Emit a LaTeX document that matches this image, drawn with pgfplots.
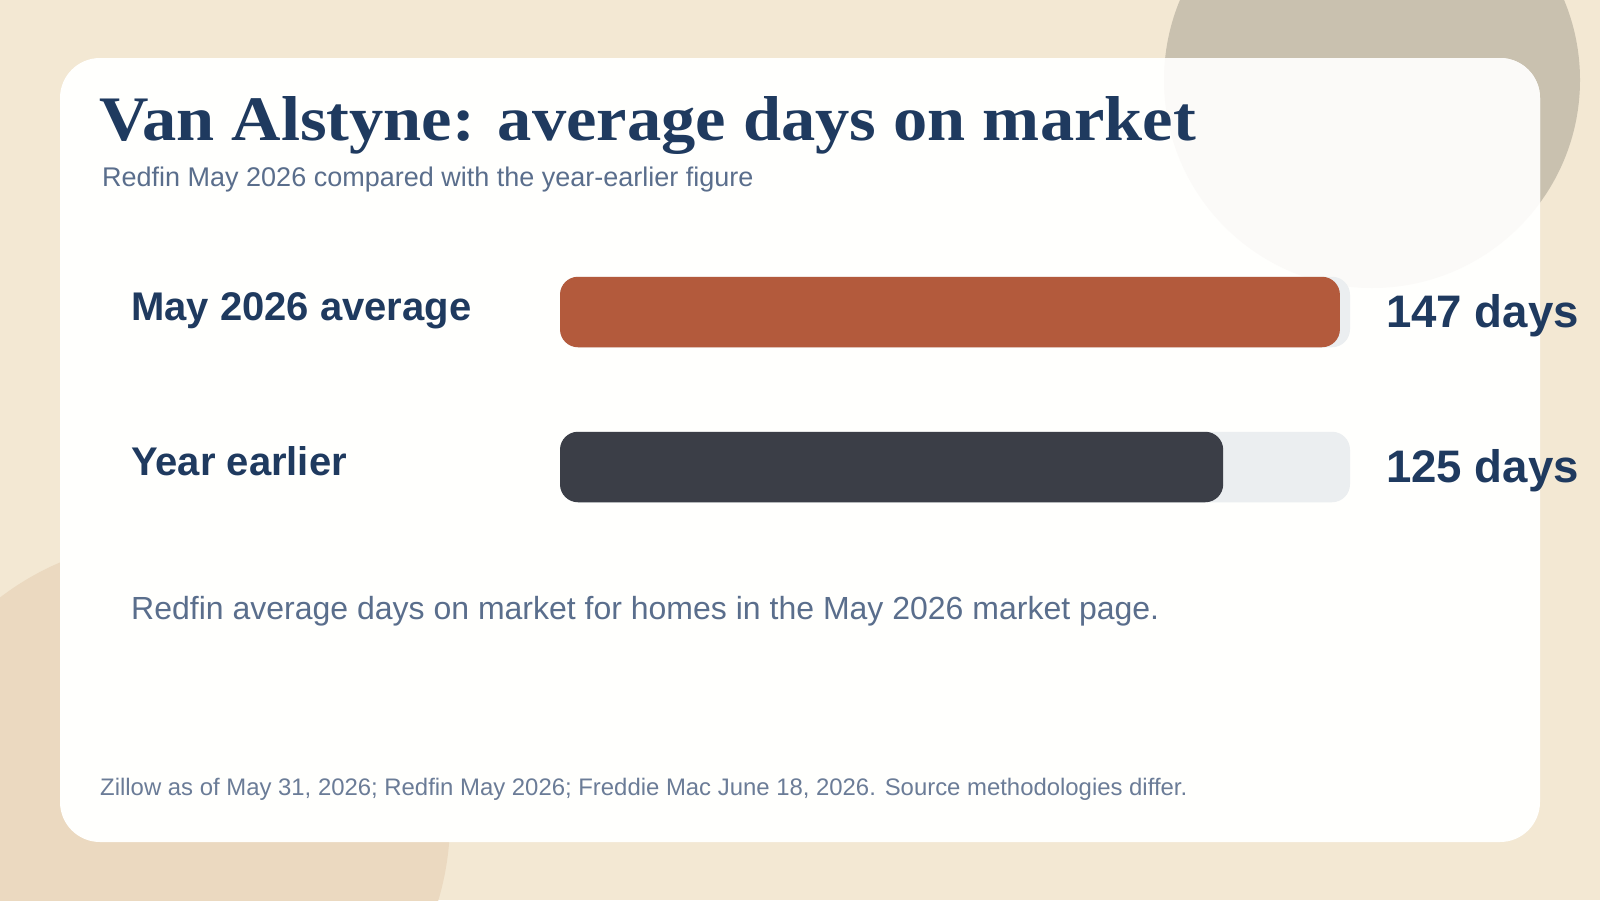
\documentclass[border=0pt]{standalone}
\usepackage{pgfplots}
\pgfplotsset{compat=1.18}
\usepackage{fontspec}
\setmainfont{Liberation Sans}
\newfontfamily\titlefont[FakeStretch=1.08]{Liberation Serif}
\definecolor{bgc}{HTML}{F3E8D3}
\definecolor{circA}{HTML}{C9C1AF}
\definecolor{circAlight}{HTML}{FBFAF8}
\definecolor{circB}{HTML}{EBD9C0}
\definecolor{cardc}{HTML}{FFFFFD}
\definecolor{navy}{HTML}{1F3A5F}
\definecolor{subc}{HTML}{5A6E8C}
\definecolor{footc}{HTML}{6B7C97}
\definecolor{orangec}{HTML}{B35A3C}
\definecolor{darkc}{HTML}{3B3E47}
\definecolor{trackc}{HTML}{EBEEF0}
\begin{document}
\begin{tikzpicture}[x=1pt,y=1pt]
\begin{scope}
\clip (0,0) rectangle (1600,-900);
\fill[bgc] (0,0) rectangle (1600,-900);
\fill[circA] (1372,-80) circle (208);
\fill[circB] (170,-820) circle (280);
\fill[cardc, rounded corners=40pt] (60,-58) rectangle (1540,-842);
\clip[rounded corners=40pt] (60,-58) rectangle (1540,-842);
\fill[circAlight] (1372,-80) circle (208);
\end{scope}
\coordinate (A) at (560,-467);
\node[anchor=base west, inner sep=0, text=navy] at (99,-140) {\titlefont\bfseries\fontsize{63.4}{70}\selectfont Van Alstyne: average days on market};
\node[anchor=base west, inner sep=0, text=subc] at (102,-186) {\fontsize{27}{32}\selectfont Redfin May 2026 compared with the year-earlier figure};
\begin{axis}[at={(A)}, anchor=south west, scale only axis,
  width=790pt, height=155pt, xmin=0, xmax=148.9, ymin=0, ymax=1,
  hide axis, clip=false, xbar, bar width=70.5pt, bar shift=0pt]
\addplot[fill=trackc, draw=none, rounded corners=18pt] coordinates {(148.9,1) (148.9,0)};
\addplot[fill=orangec, draw=none, rounded corners=18pt] coordinates {(147,1)};
\addplot[fill=darkc, draw=none, rounded corners=18pt] coordinates {(125,0)};
\node[anchor=base west, inner sep=0, text=navy, yshift=-8pt] at (axis cs:-80.86,1) {\bfseries\fontsize{40}{46}\selectfont May 2026 average};
\node[anchor=base west, inner sep=0, text=navy, yshift=-8pt] at (axis cs:-80.86,0) {\bfseries\fontsize{40}{46}\selectfont Year earlier};
\node[anchor=base west, inner sep=0, text=navy, yshift=-15pt] at (axis cs:155.7,1) {\bfseries\fontsize{45.6}{52}\selectfont 147 days};
\node[anchor=base west, inner sep=0, text=navy, yshift=-15pt] at (axis cs:155.7,0) {\bfseries\fontsize{45.6}{52}\selectfont 125 days};
\end{axis}
\node[anchor=base west, inner sep=0, text=subc] at (131,-619) {\fontsize{32}{36}\selectfont Redfin average days on market for homes in the May 2026 market page.};
\node[anchor=base west, inner sep=0, text=footc] at (100,-795) {\fontsize{23.9}{28}\selectfont Zillow as of May 31, 2026; Redfin May 2026; Freddie Mac June 18, 2026. Source methodologies differ.};
\end{tikzpicture}
\end{document}
